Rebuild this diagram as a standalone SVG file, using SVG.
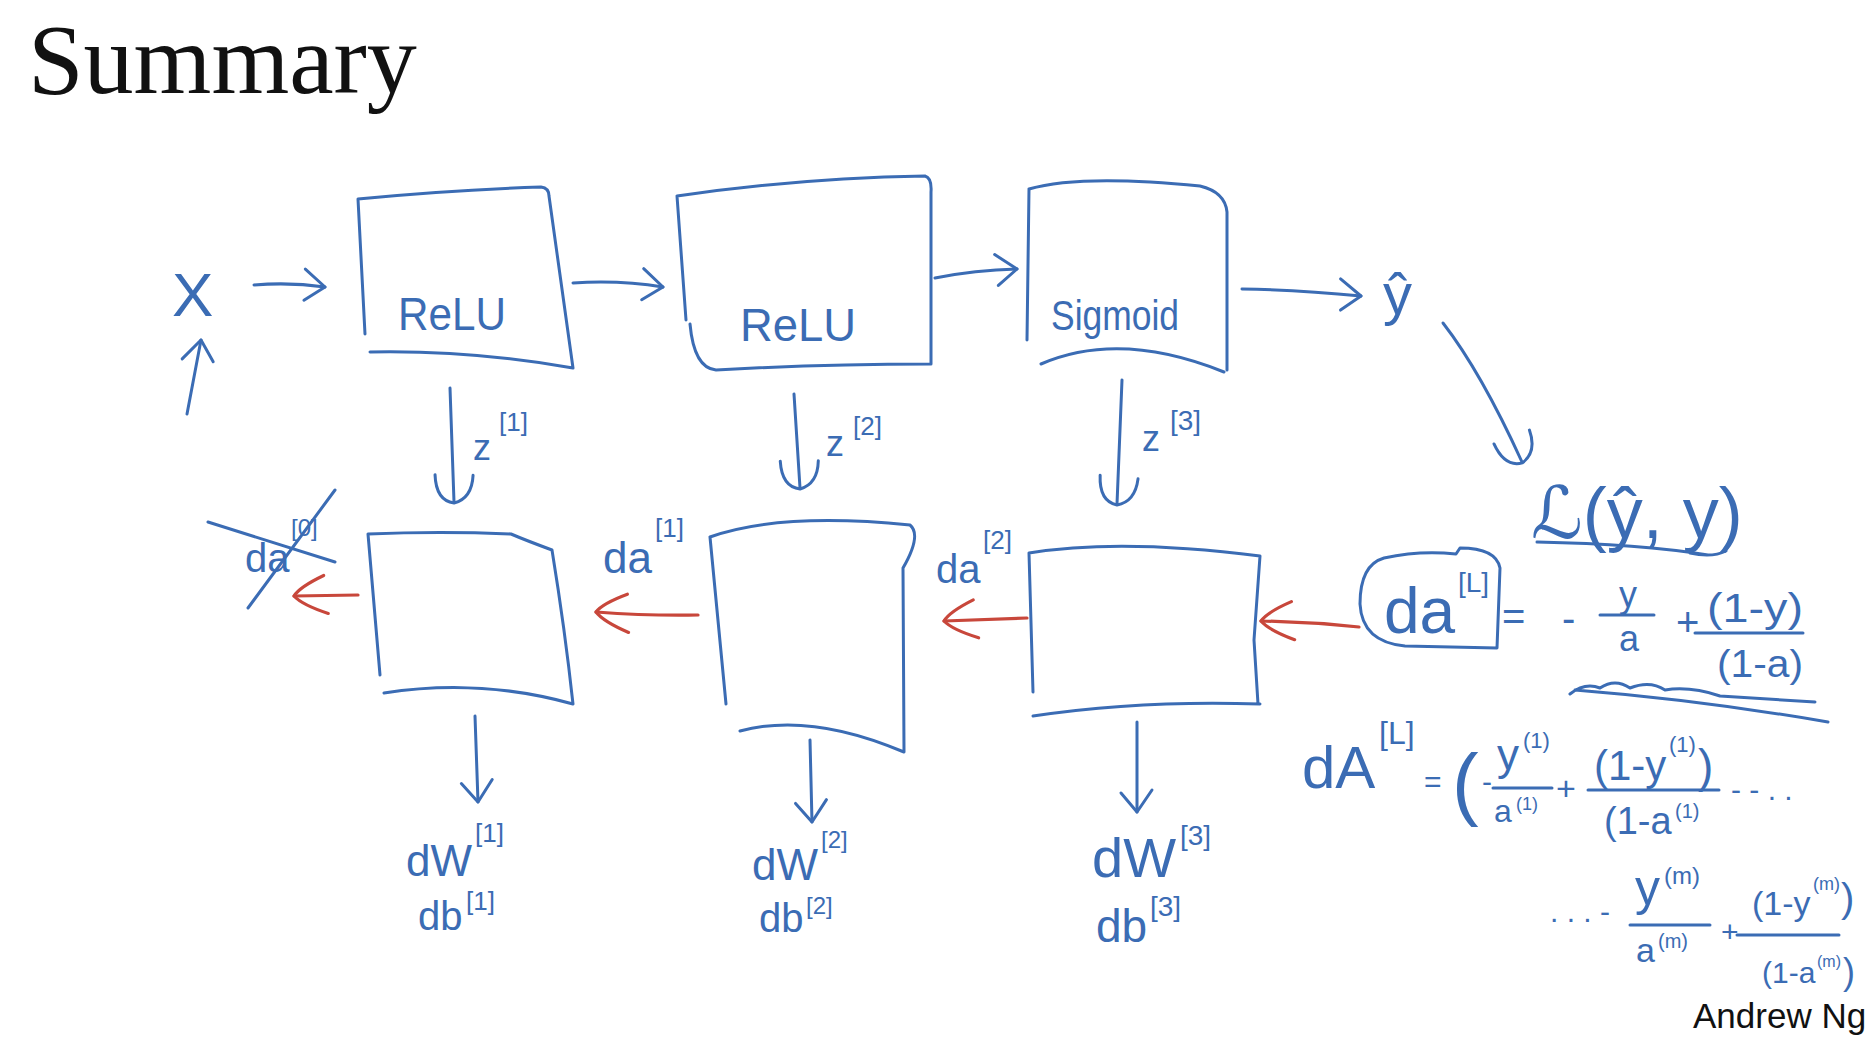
<svg xmlns="http://www.w3.org/2000/svg" width="1872" height="1046" viewBox="0 0 1872 1046">
<style>
.ink{fill:none;stroke:#3b6cb4;stroke-width:3;stroke-linecap:round;stroke-linejoin:round}
.red{fill:none;stroke:#c8473b;stroke-width:3.2;stroke-linecap:round;stroke-linejoin:round}
.hw{font-family:"Liberation Sans","DejaVu Sans",sans-serif;fill:#3b6cb4}
.sup{font-family:"Liberation Sans","DejaVu Sans",sans-serif;fill:#3b6cb4}
.title{font-family:"Liberation Serif","DejaVu Serif",serif;fill:#111;font-size:100px}
.credit{font-family:"Liberation Sans","DejaVu Sans",sans-serif;fill:#111;font-size:35px}
</style>
<defs>
<marker id="vhead" markerUnits="userSpaceOnUse" viewBox="-30 -22 36 44" refX="0" refY="0" markerWidth="36" markerHeight="44" orient="auto" overflow="visible">
<path d="M -22 -15 L 0 0 L -19 16" fill="none" stroke="#3b6cb4" stroke-width="3" stroke-linecap="round" stroke-linejoin="round"/>
</marker>
<marker id="uhead" markerUnits="userSpaceOnUse" viewBox="-34 -26 40 52" refX="0" refY="0" markerWidth="40" markerHeight="52" orient="auto" overflow="visible">
<path d="M -26 -20 Q -3 -18 1 0 Q -2 18 -28 18" fill="none" stroke="#3b6cb4" stroke-width="3" stroke-linecap="round" stroke-linejoin="round"/>
</marker>
<marker id="rhead" markerUnits="userSpaceOnUse" viewBox="-40 -26 46 52" refX="0" refY="0" markerWidth="46" markerHeight="52" orient="auto" overflow="visible">
<path d="M -34 -18 Q -8 -9 0 0 Q -6 9 -30 20" fill="none" stroke="#c8473b" stroke-width="3.2" stroke-linecap="round" stroke-linejoin="round"/>
</marker>
</defs>
<rect width="1872" height="1046" fill="#ffffff"/>

<g id="title"><text class="title" x="28" y="93">Summary</text></g>

<g id="node-x">
<text class="hw" x="172" y="316" font-size="62">X</text>
</g>

<g id="node-relu1">
<path class="ink" d="M 358 199 Q 450 190 541 187 Q 549 188 549 196 L 573 368 M 370 352 Q 470 350 573 368 M 358 199 L 365 334"/>
<text class="hw" x="398" y="330" font-size="46" textLength="108" lengthAdjust="spacingAndGlyphs">ReLU</text>
</g>

<g id="node-relu2">
<path class="ink" d="M 677 196 Q 800 178 925 176 Q 932 178 931 192 L 931 364 M 677 196 L 686 320 M 690 324 Q 694 368 716 370 Q 820 364 931 364"/>
<text class="hw" x="740" y="341" font-size="46" textLength="116" lengthAdjust="spacingAndGlyphs">ReLU</text>
</g>

<g id="node-sigmoid">
<path class="ink" d="M 1029 189 Q 1080 174 1200 186 Q 1225 192 1227 212 L 1227 370 M 1029 189 L 1027 340 M 1041 364 Q 1120 330 1224 372"/>
<text class="hw" x="1051" y="330" font-size="42" textLength="128" lengthAdjust="spacingAndGlyphs">Sigmoid</text>
</g>

<g id="node-yhat">
<text class="hw" x="1383" y="314" font-size="58">ŷ</text>
</g>

<g id="node-loss">
<text class="hw" x="1531" y="538" font-size="72">ℒ(ŷ, y)</text>
<path class="ink" d="M 1537 542 Q 1640 544 1708 555 M 1690 553 Q 1712 558 1726 551"/>
</g>

<g id="node-back1">
<path class="ink" d="M 368 534 Q 440 531 511 534 Q 525 540 552 550 Q 565 630 573 704 M 384 693 Q 480 678 573 704 M 368 534 L 380 675"/>
</g>
<g id="node-back2">
<path class="ink" d="M 710 537 Q 780 512 910 525 Q 922 535 903 568 L 904 752 M 740 731 Q 810 712 904 752 M 710 537 L 726 704"/>
</g>
<g id="node-back3">
<path class="ink" d="M 1029 553 Q 1120 538 1260 556 L 1254 640 L 1258 704 M 1033 716 Q 1140 700 1260 704 M 1029 553 L 1033 692"/>
</g>

<g id="node-daL">
<path class="ink" d="M 1384 558 Q 1420 550 1456 554 L 1460 548 Q 1496 548 1500 568 L 1497 648 L 1405 646 Q 1362 642 1360 604 Q 1360 565 1384 558 Z"/>
<text class="hw" x="1384" y="633" font-size="64">da</text>
<text class="sup" x="1458" y="592" font-size="28">[L]</text>
</g>

<g id="node-eq1">
<text class="hw" x="1502" y="630" font-size="40">=</text>
<text class="hw" x="1562" y="632" font-size="40">-</text>
<text class="hw" x="1619" y="607" font-size="36">y</text>
<path class="ink" d="M 1600 615 L 1654 615"/>
<text class="hw" x="1619" y="651" font-size="36">a</text>
<text class="hw" x="1676" y="636" font-size="40">+</text>
<text class="hw" x="1707" y="622" font-size="40" textLength="96" lengthAdjust="spacingAndGlyphs">(1-y)</text>
<path class="ink" d="M 1695 633 L 1803 633"/>
<text class="hw" x="1717" y="677" font-size="38" textLength="86" lengthAdjust="spacingAndGlyphs">(1-a)</text>
<path class="ink" d="M 1570 694 Q 1585 682 1600 688 Q 1615 678 1630 688 Q 1650 680 1665 690 Q 1690 686 1720 696 L 1815 702 M 1575 690 Q 1700 700 1828 722"/>
</g>

<g id="node-eq2">
<text class="hw" x="1302" y="788" font-size="60">dA</text>
<text class="sup" x="1379" y="744" font-size="32">[L]</text>
<text class="hw" x="1424" y="792" font-size="30">=</text>
<text class="hw" x="1452" y="810" font-size="80">(</text>
<text class="hw" x="1482" y="792" font-size="30">-</text>
<text class="hw" x="1497" y="770" font-size="44">y</text>
<text class="sup" x="1523" y="748" font-size="22">(1)</text>
<path class="ink" d="M 1493 788 L 1552 788"/>
<text class="hw" x="1494" y="822" font-size="32">a</text>
<text class="sup" x="1516" y="810" font-size="18">(1)</text>
<text class="hw" x="1556" y="800" font-size="34">+</text>
<text class="hw" x="1594" y="780" font-size="42">(1-y</text>
<text class="sup" x="1669" y="752" font-size="22">(1)</text>
<text class="hw" x="1698" y="782" font-size="46">)</text>
<path class="ink" d="M 1588 790 L 1719 790"/>
<text class="hw" x="1604" y="834" font-size="38">(1-a</text>
<text class="sup" x="1675" y="818" font-size="20">(1)</text>
<text class="hw" x="1731" y="800" font-size="30">- - . .</text>
<text class="hw" x="1550" y="922" font-size="30">. . . -</text>
<text class="hw" x="1635" y="905" font-size="50">y</text>
<text class="sup" x="1664" y="884" font-size="24">(m)</text>
<path class="ink" d="M 1630 925 L 1710 925"/>
<text class="hw" x="1636" y="962" font-size="34">a</text>
<text class="sup" x="1658" y="948" font-size="20">(m)</text>
<text class="hw" x="1721" y="942" font-size="30">+</text>
<text class="hw" x="1752" y="915" font-size="34">(1-y</text>
<text class="sup" x="1813" y="890" font-size="18">(m)</text>
<text class="hw" x="1841" y="912" font-size="40">)</text>
<path class="ink" d="M 1737 935 L 1839 935"/>
<text class="hw" x="1762" y="983" font-size="30">(1-a</text>
<text class="sup" x="1817" y="967" font-size="16">(m)</text>
<text class="hw" x="1843" y="984" font-size="36">)</text>
</g>

<g id="label-z1"><text class="hw" x="473" y="460" font-size="36">z</text><text class="sup" x="499" y="431" font-size="26">[1]</text></g>
<g id="label-z2"><text class="hw" x="826" y="456" font-size="36">z</text><text class="sup" x="853" y="435" font-size="26">[2]</text></g>
<g id="label-z3"><text class="hw" x="1142" y="451" font-size="36">z</text><text class="sup" x="1170" y="430" font-size="28">[3]</text></g>

<g id="label-da0">
<text class="hw" x="245" y="572" font-size="40">da</text>
<text class="sup" x="291" y="536" font-size="24">[0]</text>
<path class="ink" d="M 208 522 L 335 562 M 248 608 L 335 490"/>
</g>
<g id="label-da1"><text class="hw" x="603" y="573" font-size="44">da</text><text class="sup" x="655" y="537" font-size="26">[1]</text></g>
<g id="label-da2"><text class="hw" x="936" y="583" font-size="40">da</text><text class="sup" x="983" y="549" font-size="26">[2]</text></g>

<g id="label-grad1"><text class="hw" x="406" y="876" font-size="44">dW</text><text class="sup" x="475" y="842" font-size="26">[1]</text>
<text class="hw" x="418" y="930" font-size="40">db</text><text class="sup" x="466" y="910" font-size="26">[1]</text></g>
<g id="label-grad2"><text class="hw" x="752" y="880" font-size="44">dW</text><text class="sup" x="821" y="848" font-size="24">[2]</text>
<text class="hw" x="759" y="932" font-size="40">db</text><text class="sup" x="806" y="914" font-size="24">[2]</text></g>
<g id="label-grad3"><text class="hw" x="1092" y="877" font-size="56">dW</text><text class="sup" x="1180" y="845" font-size="28">[3]</text>
<text class="hw" x="1096" y="942" font-size="46">db</text><text class="sup" x="1150" y="916" font-size="28">[3]</text></g>

<g id="connectors">
<path class="ink" d="M 254 285 Q 290 282 325 287" marker-end="url(#vhead)"/>
<path class="ink" d="M 187 414 L 201 340" marker-end="url(#vhead)"/>
<path class="ink" d="M 573 283 Q 620 280 663 287" marker-end="url(#vhead)"/>
<path class="ink" d="M 935 278 Q 975 270 1017 269" marker-end="url(#vhead)"/>
<path class="ink" d="M 1242 289 Q 1300 290 1361 296" marker-end="url(#vhead)"/>
<path class="ink" d="M 1443 323 Q 1481 372 1522 462" marker-end="url(#uhead)"/>
<path class="ink" d="M 450 388 L 454 502" marker-end="url(#uhead)"/>
<path class="ink" d="M 794 394 L 800 488" marker-end="url(#uhead)"/>
<path class="ink" d="M 1122 380 L 1117 504" marker-end="url(#uhead)"/>
<path class="ink" d="M 475 716 L 478 802" marker-end="url(#vhead)"/>
<path class="ink" d="M 810 740 L 812 822" marker-end="url(#vhead)"/>
<path class="ink" d="M 1137 722 L 1137 812" marker-end="url(#vhead)"/>
<path class="red" d="M 358 595 L 294 596" marker-end="url(#rhead)"/>
<path class="red" d="M 698 615 Q 650 616 596 612" marker-end="url(#rhead)"/>
<path class="red" d="M 1027 618 L 944 621" marker-end="url(#rhead)"/>
<path class="red" d="M 1359 627 Q 1310 622 1261 621" marker-end="url(#rhead)"/>
</g>

<g id="credit"><text class="credit" x="1693" y="1028">Andrew Ng</text></g>
</svg>
